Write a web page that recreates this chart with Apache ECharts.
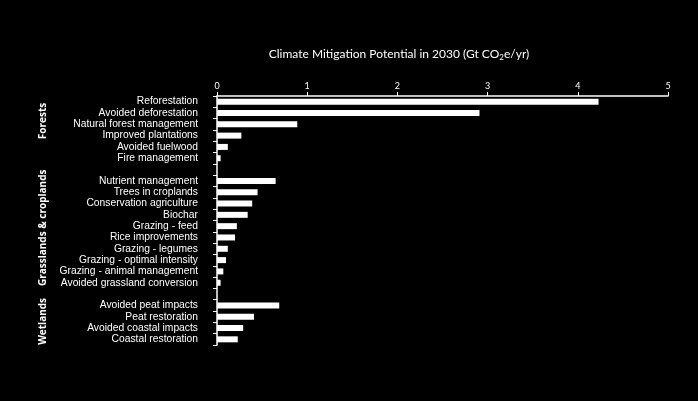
<!DOCTYPE html>
<html>
<head>
<meta charset="utf-8">
<script src="https://cdn.jsdelivr.net/npm/echarts@6/dist/echarts.min.js"></script>
<style>
    html, body { margin: 0; padding: 0; background: #000; }
    #chart { width: 698px; height: 401px; }
</style>
</head>
<body>
<div id="chart"></div>
<script>
    // categories top to bottom, gap rows separate the groups
    var categories = [
        'Reforestation', 'Avoided deforestation', 'Natural forest management',
        'Improved plantations', 'Avoided fuelwood', 'Fire management',
        'gap1',
        'Nutrient management', 'Trees in croplands', 'Conservation agriculture',
        'Biochar', 'Grazing - feed', 'Rice improvements', 'Grazing - legumes',
        'Grazing - optimal intensity', 'Grazing - animal management',
        'Avoided grassland conversion',
        'gap2',
        'Avoided peat impacts', 'Peat restoration', 'Avoided coastal impacts',
        'Coastal restoration'
    ];
    var values = [
        4.23, 2.91, 0.89, 0.27, 0.12, 0.04,
        null,
        0.65, 0.45, 0.39, 0.34, 0.22, 0.20, 0.12, 0.10, 0.07, 0.04,
        null,
        0.69, 0.41, 0.29, 0.23
    ];
    var xTicks = [0, 1, 2, 3, 4, 5];
    // group label -> first and last category in it
    var groups = [
        ['Forests', 'Reforestation', 'Fire management'],
        ['Grasslands & croplands', 'Nutrient management', 'Avoided grassland conversion'],
        ['Wetlands', 'Avoided peat impacts', 'Coastal restoration']
    ];
    var groupShift = [-9, -4, -1];

    var chart = echarts.init(document.getElementById('chart'));
    var option = {
        backgroundColor: '#000',
        animation: false,
        title: {
            text: 'Climate Mitigation Potential in 2030 (Gt CO{sub|2}e/yr)',
            left: 394,
            textAlign: 'center',
            top: 42,
            textStyle: {
                color: '#fff',
                fontFamily: 'Lato',
                fontSize: 12,
                fontWeight: 'normal',
                rich: {
                    sub: { fontSize: 8, color: '#fff', fontFamily: 'Lato', verticalAlign: 'bottom', padding: [6, 0, 0, 0] }
                }
            }
        },
        grid: { left: 217, right: 30, top: 96, bottom: 56 },
        xAxis: {
            type: 'value',
            position: 'top',
            min: xTicks[0],
            max: xTicks[xTicks.length - 1],
            interval: 1,
            axisLine: { show: true, lineStyle: { color: '#fff', width: 1.5 } },
            axisTick: { show: true, length: 4, lineStyle: { color: '#fff' } },
            axisLabel: { color: '#fff', fontFamily: 'Lato', fontSize: 9, margin: 5 },
            splitLine: { show: false }
        },
        yAxis: {
            type: 'category',
            inverse: true,
            data: categories,
            axisLine: { show: true, lineStyle: { color: '#fff', width: 1.5 } },
            axisTick: { show: true, length: 4, lineStyle: { color: '#fff' } },
            axisLabel: {
                color: '#fff',
                fontFamily: 'Liberation Sans',
                fontSize: 10.3,
                margin: 19,
                interval: 0,
                formatter: function (v) { return v.indexOf('gap') === 0 ? '' : v; }
            }
        },
        series: [{
            type: 'bar',
            data: values,
            barWidth: 6,
            itemStyle: { color: '#fff' }
        }]
    };
    chart.setOption(option);

    // rotated group labels, placed from the axis scale
    var graphics = groups.map(function (g, i) {
        var y1 = chart.convertToPixel({ yAxisIndex: 0 }, g[1]);
        var y2 = chart.convertToPixel({ yAxisIndex: 0 }, g[2]);
        return {
            type: 'text',
            x: 43,
            y: (y1 + y2) / 2 + groupShift[i],
            rotation: Math.PI / 2,
            style: {
                text: g[0],
                fill: '#fff',
                font: 'bold 10px "Open Sans"',
                align: 'center',
                verticalAlign: 'middle'
            }
        };
    });
    chart.setOption({ graphic: graphics });
</script>
</body>
</html>
